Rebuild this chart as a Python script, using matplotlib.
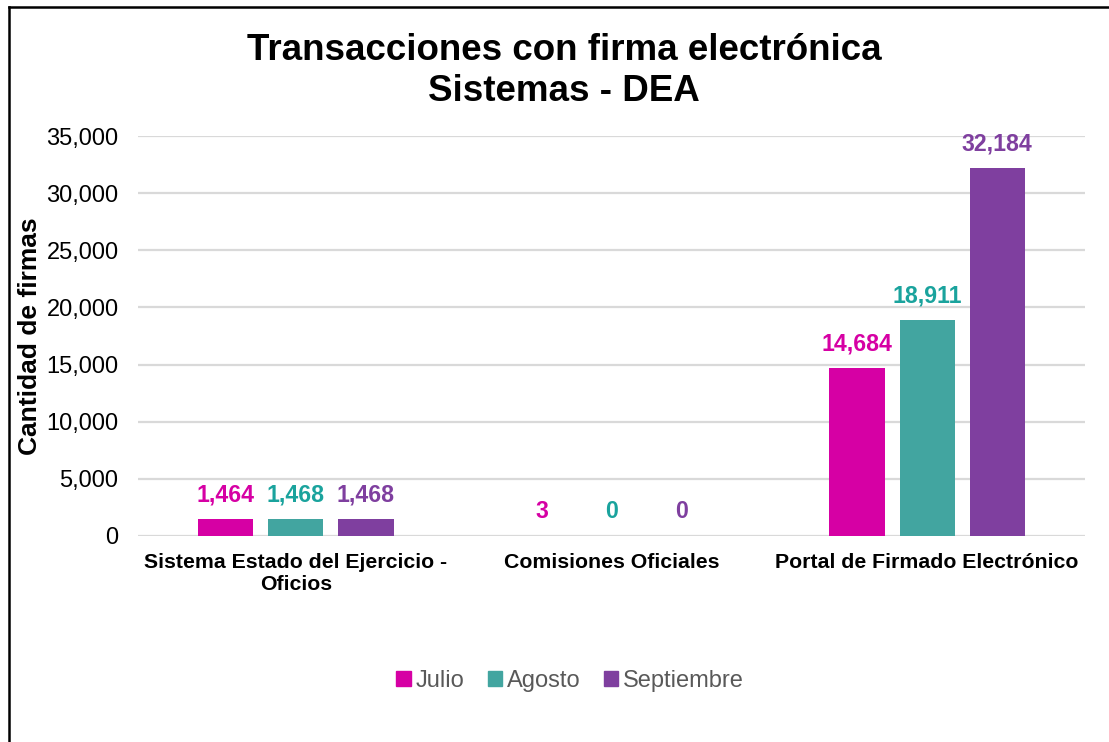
import matplotlib.pyplot as plt
import matplotlib.lines as mlines
import matplotlib.patches as mpatches
import numpy as np

plt.rcParams['font.family'] = ['Liberation Sans', 'DejaVu Sans']

categories = ['Sistema Estado del Ejercicio -\nOficios', 'Comisiones Oficiales', 'Portal de Firmado Electrónico']
series_names = ['Julio', 'Agosto', 'Septiembre']
julio = [1464, 3, 14684]
agosto = [1468, 0, 18911]
septiembre = [1468, 0, 32184]
series_values = [julio, agosto, septiembre]

bar_colors = ['#D600A4', '#42A5A0', '#7F3F9F']
label_colors = ['#D600A4', '#1AA39D', '#7F3F9F']

fig = plt.figure(figsize=(11.09, 7.42), dpi=100)
ax = fig.add_axes([138/1109, 1 - 536/742, (1085 - 138)/1109, 400/742])

x = np.arange(len(categories))
step = 0.222
width = 0.175
for j, (name, vals) in enumerate(zip(series_names, series_values)):
    pos = x + (j - 1) * step
    ax.bar(pos, vals, width, color=bar_colors[j], label=name, zorder=3)
    for px, v in zip(pos, vals):
        ax.annotate(f'{v:,}', (px, v), xytext=(0, 9), textcoords='offset points',
                    ha='center', va='bottom', fontsize=16.7, fontweight='bold',
                    color=label_colors[j])

ax.set_xlim(-0.5, 2.5)
ax.set_ylim(0, 35000)
ax.set_yticks(np.arange(0, 35001, 5000))
ax.set_yticklabels([f'{t:,}' for t in range(0, 35001, 5000)])
ax.set_xticks(x)
ax.set_xticklabels(categories, fontsize=15.3, fontweight='bold')
ax.tick_params(axis='y', length=0, pad=14, labelsize=17, colors='#000000')
ax.tick_params(axis='x', length=0, pad=12)
ax.grid(axis='y', color='#D9D9D9', linewidth=1.6, zorder=0)
for s in ax.spines.values():
    s.set_visible(False)
ax.set_ylabel('Cantidad de firmas', fontsize=19, fontweight='bold', va='center')
ax.yaxis.set_label_coords((30 - 138) / 947, 0.5)

fig.text(564/1109, 1 - 71/742, 'Transacciones con firma electrónica\nSistemas - DEA',
         ha='center', va='center', fontsize=26.5, fontweight='bold', linespacing=1.2)

handles = [mpatches.Patch(color=c, label=n) for c, n in zip(bar_colors, series_names)]
leg = fig.legend(handles=handles, loc='center', bbox_to_anchor=(570/1109, 1 - 681/742),
                 ncol=3, frameon=False, fontsize=17, handlelength=0.6, handleheight=0.6,
                 handletextpad=0.2, columnspacing=1.0)
for t in leg.get_texts():
    t.set_color('#595959')

# chart frame (left and top edges visible)
fig.add_artist(mlines.Line2D([9/1109, 9/1109], [0, 1 - 7/742], transform=fig.transFigure,
                             color='black', linewidth=1.8))
fig.add_artist(mlines.Line2D([9/1109, 1], [1 - 7/742, 1 - 7/742], transform=fig.transFigure,
                             color='black', linewidth=1.8))

fig.savefig('out.png', dpi=100, facecolor='white')
